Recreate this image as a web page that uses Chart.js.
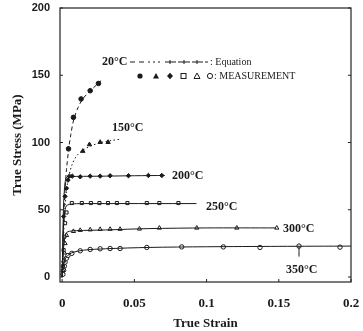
<!DOCTYPE html>
<html>
<head>
<meta charset="utf-8">
<script src="https://cdn.jsdelivr.net/npm/chart.js@4/dist/chart.umd.min.js"></script>
<style>
	html, body { margin:0; padding:0; background:#fff; }
	#wrap { width:363px; height:331px; }
</style>
</head>
<body>
<div id="wrap"><canvas id="myChart" width="363" height="331"></canvas></div>
<script>

// ----------------------- data ----------------------------

var xTicks = [0, 0.05, 0.1, 0.15, 0.2];
var yTicks = [0, 50, 100, 150, 200];

// equation curves
var eq20Strain  = [0, 0.0005, 0.001, 0.002, 0.003, 0.0045, 0.006, 0.008, 0.011, 0.014, 0.018, 0.022, 0.027];
var eq20Stress  = [0, 22, 42, 65, 80, 95, 106, 117, 126, 132, 137, 141, 146];
var eq150Strain = [0, 0.001, 0.002, 0.004, 0.007, 0.01, 0.014, 0.02, 0.027, 0.034, 0.041];
var eq150Stress = [0, 30, 52, 72, 84, 90, 94, 97.5, 100, 101.5, 102.5];
var eq200Strain = [0, 0.0005, 0.001, 0.002, 0.003, 0.005, 0.01, 0.03, 0.05, 0.071];
var eq200Stress = [0, 30, 55, 70, 74, 74.5, 74.8, 75, 75.3, 75.5];
var eq250Strain = [0, 0.0005, 0.001, 0.002, 0.003, 0.005, 0.01, 0.03, 0.06, 0.093];
var eq250Stress = [0, 22, 40, 50, 53, 54, 54.5, 54.6, 54.6, 54.6];
var eq300Strain = [0, 0.0005, 0.001, 0.002, 0.003, 0.005, 0.01, 0.03, 0.06, 0.1, 0.148];
var eq300Stress = [0, 12, 22, 30, 33, 34, 34.5, 35, 36, 36.5, 36.5];
var eq350Strain = [0, 0.0005, 0.001, 0.002, 0.003, 0.005, 0.008, 0.015, 0.03, 0.06, 0.1, 0.15, 0.2];
var eq350Stress = [0, 5, 9, 13, 15, 17, 18.5, 20, 21, 22, 22.5, 22.8, 23];

// measurements
var m20Strain  = [0.0044, 0.0078, 0.0131, 0.0194, 0.0251];
var m20Stress  = [95.3, 118.7, 132.4, 138.5, 143.9];
var m150Strain = [0.0143, 0.0189, 0.0263, 0.0318];
var m150Stress = [93.6, 98.5, 100.2, 100.2];
var m200Strain = [0.001, 0.002, 0.003, 0.004, 0.005, 0.007, 0.0125, 0.0194, 0.0263, 0.0332, 0.0459, 0.0597, 0.069];
var m200Stress = [45, 60, 66, 72, 75, 75, 74.5, 75, 75, 75.3, 75.3, 75.5, 75.5];
var m250Strain = [0.0005, 0.001, 0.0015, 0.002, 0.003, 0.0067, 0.0136, 0.0199, 0.0258, 0.0317, 0.0379, 0.0452, 0.0586, 0.0673, 0.0805];
var m250Stress = [8, 20, 30, 40, 48, 55, 55, 55, 55, 55, 55, 55, 55, 55, 55];
var m300Strain = [0.0005, 0.001, 0.0015, 0.002, 0.003, 0.0078, 0.0125, 0.0194, 0.0263, 0.0332, 0.0401, 0.0535, 0.0673, 0.0932, 0.1209, 0.1486];
var m300Stress = [5, 12, 18, 25, 31, 34, 34.8, 35.2, 35.5, 35.6, 35.6, 35.8, 36.5, 36.5, 36.5, 36.5];
var m350Strain = [0.0005, 0.001, 0.0015, 0.002, 0.003, 0.004, 0.0067, 0.0125, 0.0194, 0.0263, 0.0332, 0.0401, 0.0586, 0.0828, 0.1116, 0.137, 0.164, 0.1924];
var m350Stress = [2, 5, 8, 11, 14, 16, 17.6, 19.5, 20.5, 21, 21.2, 21.2, 22, 22.4, 22.4, 22, 23, 22.2];

// pointer to the 350 label
var ptrStrain = [0.164, 0.164];
var ptrStress = [22.8, 15.2];

// ----------------------- helpers ----------------------------

function pts(xs, ys){
	var out = [];
	for (var i = 0; i < xs.length; i++) out.push({x: xs[i], y: ys[i]});
	return out;
}

var INK = '#1a1a1a';

function eqLine(xs, ys, dash){
	return { data: pts(xs, ys), borderColor: INK, borderWidth: 1, borderDash: dash,
		pointRadius: 0, showLine: true, tension: 0.3, fill: false };
}

function meas(xs, ys, style, filled, r){
	return { data: pts(xs, ys), showLine: false, pointStyle: style, pointRadius: r,
		pointBorderColor: INK, pointBorderWidth: 1,
		pointBackgroundColor: filled ? INK : '#fff' };
}

// ----------------------- text / frame plugin ----------------------------

var SERIF = 'bold 12px "Liberation Serif", "DejaVu Serif", serif';

var decor = {
	id: 'decor',
	afterDraw: function(chart){
		var c = chart.ctx, a = chart.chartArea;
		var xs = chart.scales.x, ys = chart.scales.y;
		c.save();

		// frame
		c.strokeStyle = '#222';
		c.lineWidth = 1.2;
		c.strokeRect(a.left, a.top, a.right - a.left, a.bottom - a.top);

		// inner ticks
		c.lineWidth = 1;
		xTicks.forEach(function(v){
			var px = xs.getPixelForValue(v);
			c.beginPath(); c.moveTo(px, a.bottom); c.lineTo(px, a.bottom - 3); c.stroke();
		});
		yTicks.forEach(function(v){
			var py = ys.getPixelForValue(v);
			c.beginPath(); c.moveTo(a.left, py); c.lineTo(a.left + 3, py); c.stroke();
			c.beginPath(); c.moveTo(a.right, py); c.lineTo(a.right - 3, py); c.stroke();
		});

		// temperature labels
		c.fillStyle = INK;
		c.font = SERIF;
		c.textBaseline = 'middle';
		c.textAlign = 'left';
		c.fillText('20°C', 102, 62);
		c.fillText('150°C', 112, 128);
		c.fillText('200°C', 172, 176);
		c.fillText('250°C', 206, 207);
		c.fillText('300°C', 283, 229);
		c.fillText('350°C', 286, 270);

		// legend: equation line samples
		c.strokeStyle = INK;
		c.lineWidth = 1;
		c.setLineDash([5, 4]);
		c.beginPath(); c.moveTo(130, 62); c.lineTo(150, 62); c.stroke();
		c.setLineDash([2, 3]);
		c.beginPath(); c.moveTo(153, 62); c.lineTo(162, 62); c.stroke();
		c.setLineDash([]);
		[[165, 176], [178, 190], [192, 203], [205, 208]].forEach(function(s){
			c.beginPath(); c.moveTo(s[0], 62); c.lineTo(s[1], 62); c.stroke();
		});
		[170, 184, 197].forEach(function(px){
			c.beginPath(); c.moveTo(px, 60); c.lineTo(px, 64); c.stroke();
		});
		c.font = '10px "Liberation Serif", serif';
		c.fillText(': Equation', 210, 62);

		// legend: measurement markers
		var my = 76;
		c.beginPath(); c.arc(140, my, 2.6, 0, Math.PI * 2); c.fill();
		c.beginPath(); c.moveTo(156, my - 3); c.lineTo(159, my + 2.5); c.lineTo(153, my + 2.5); c.closePath(); c.fill();
		c.beginPath(); c.moveTo(170, my - 3.2); c.lineTo(173, my); c.lineTo(170, my + 3.2); c.lineTo(167, my); c.closePath(); c.fill();
		c.strokeRect(181, my - 2.5, 5, 5);
		c.beginPath(); c.moveTo(197, my - 3); c.lineTo(200, my + 2.5); c.lineTo(194, my + 2.5); c.closePath(); c.stroke();
		c.beginPath(); c.arc(210, my, 2.6, 0, Math.PI * 2); c.stroke();
		c.fillText(': MEASUREMENT', 214, my);

		c.restore();
	}
};

// ----------------------- chart ----------------------------

var ctx = document.getElementById('myChart').getContext('2d');
var myChart = new Chart(ctx, {
	type: 'scatter',
	data: {
		datasets: [
			eqLine(eq20Strain, eq20Stress, [4, 3]),
			eqLine(eq150Strain, eq150Stress, [1.5, 2.5]),
			eqLine(eq200Strain, eq200Stress, []),
			eqLine(eq250Strain, eq250Stress, []),
			eqLine(eq300Strain, eq300Stress, []),
			eqLine(eq350Strain, eq350Stress, []),
			eqLine(ptrStrain, ptrStress, []),
			meas(m20Strain, m20Stress, 'circle', true, 2.3),
			meas(m150Strain, m150Stress, 'triangle', true, 2.5),
			meas(m200Strain, m200Stress, 'rectRot', true, 2.2),
			meas(m250Strain, m250Stress, 'rect', false, 2.2),
			meas(m300Strain, m300Stress, 'triangle', false, 2.4),
			meas(m350Strain, m350Stress, 'circle', false, 2.2)
		]
	},
	options: {
		responsive: false,
		animation: false,
		layout: { padding: { top: 8, right: 12, left: 0, bottom: 0 } },
		plugins: { legend: { display: false }, tooltip: { enabled: false } },
		scales: {
			x: {
				type: 'linear', min: -0.0015, max: 0.2,
				afterFit: function(s){ s.height = 49; s.paddingLeft = 0; s.paddingRight = 0; },
				afterBuildTicks: function(s){ s.ticks = xTicks.map(function(v){ return {value: v}; }); },
				grid: { display: false, drawTicks: false },
				border: { display: false },
				ticks: { padding: 14, color: INK, maxRotation: 0,
					font: { family: '"Liberation Serif", serif', weight: 'bold', size: 13 },
					callback: function(v){ return String(v); } },
				title: { display: true, text: 'True Strain', color: INK, padding: 0,
					font: { family: '"Liberation Serif", serif', weight: 'bold', size: 13 } }
			},
			y: {
				type: 'linear', min: -3.7, max: 200,
				afterFit: function(s){ s.width = 60; s.paddingTop = 0; s.paddingBottom = 0; },
				afterBuildTicks: function(s){ s.ticks = yTicks.map(function(v){ return {value: v}; }); },
				grid: { display: false, drawTicks: false },
				border: { display: false },
				ticks: { padding: 10, color: INK,
					font: { family: '"Liberation Sans", Arial, sans-serif', weight: 'bold', size: 11 } },
				title: { display: true, text: 'True Stress (MPa)', color: INK, padding: { top: 10, bottom: 0 },
					font: { family: '"Liberation Serif", serif', weight: 'bold', size: 13 } }
			}
		}
	},
	plugins: [decor]
});

</script>
</body>
</html>
